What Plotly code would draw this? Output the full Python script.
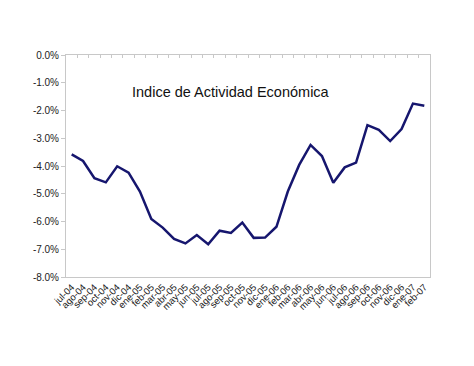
import plotly.graph_objects as go

months = ["jul-04", "ago-04", "sep-04", "oct-04", "nov-04", "dic-04",
          "ene-05", "feb-05", "mar-05", "abr-05", "may-05", "jun-05",
          "jul-05", "ago-05", "sep-05", "oct-05", "nov-05", "dic-05",
          "ene-06", "feb-06", "mar-06", "abr-06", "may-06", "jun-06",
          "jul-06", "ago-06", "sep-06", "oct-06", "nov-06", "dic-06",
          "ene-07", "feb-07"]
values = [-3.58, -3.82, -4.44, -4.59, -4.01, -4.24,
          -4.92, -5.91, -6.22, -6.63, -6.79, -6.49,
          -6.82, -6.33, -6.41, -6.04, -6.59, -6.58,
          -6.19, -4.92, -3.96, -3.24, -3.64, -4.60,
          -4.05, -3.88, -2.53, -2.70, -3.10, -2.67,
          -1.75, -1.83]
y_ticks = [0, -1, -2, -3, -4, -5, -6, -7, -8]
title_text = "Indice de Actividad Económica"

FONT = "Liberation Sans, Arial, sans-serif"
GRID = "#c8c8c8"

fig = go.Figure()
fig.add_trace(go.Scatter(x=months, y=values, mode="lines",
                         line=dict(color="#16166e", width=2.5),
                         hoverinfo="skip", showlegend=False))
fig.add_trace(go.Scatter(x=months, y=values, mode="lines", xaxis="x2",
                         line=dict(color="rgba(0,0,0,0)", width=0),
                         hoverinfo="skip", showlegend=False))

# page body has an 8px margin, so the figure is sized to fit inside the window
fig.update_layout(
    width=466, height=358,
    margin=dict(l=58, r=44, t=47, b=89, autoexpand=False),
    paper_bgcolor="white", plot_bgcolor="white",
    font=dict(family=FONT, color="#222222"),
    xaxis=dict(type="category", categoryorder="array", categoryarray=months,
               range=[-0.5, len(months) - 0.5],
               tickmode="array", tickvals=months, ticktext=months,
               showgrid=False, zeroline=False,
               showline=True, linecolor=GRID, linewidth=1, mirror=True,
               ticks="", tickangle=-45,
               tickfont=dict(size=9.5, family=FONT, color="#222222")),
    xaxis2=dict(type="category", categoryorder="array", categoryarray=months,
                overlaying="x", side="top", matches="x",
                range=[-0.5, len(months) - 0.5],
                tickmode="array", tickvals=months,
                showgrid=False, zeroline=False, showline=False,
                ticks="inside", tickson="boundaries", ticklen=3, tickcolor=GRID,
                showticklabels=False),
    yaxis=dict(range=[-8, 0], tickvals=y_ticks,
               ticktext=[f"{v:.1f}%" for v in y_ticks],
               showgrid=False, zeroline=False,
               showline=True, linecolor=GRID, linewidth=1, mirror=True,
               ticks="outside", ticklen=4, tickcolor=GRID,
               tickfont=dict(size=10, family=FONT, color="#222222")),
    annotations=[dict(text=title_text, xref="paper", yref="paper",
                      x=0.453, y=0.833, xanchor="center", yanchor="middle",
                      showarrow=False, font=dict(size=14.5, family=FONT, color="#111111"))],
)

fig.write_html("out.html")
